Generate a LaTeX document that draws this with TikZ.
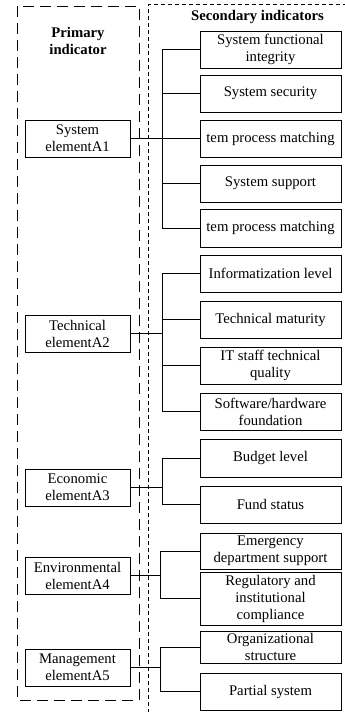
\documentclass[tikz,border=0pt]{standalone}
\usepackage{fontspec}
\setmainfont{Liberation Serif}
\begin{document}
\begin{tikzpicture}[x=1pt,y=-1pt,
  every node/.style={font=\fontsize{14.7}{17}\selectfont},
  primbox/.style={draw,line width=0.8pt,minimum width=105pt,minimum height=37pt,align=center,inner sep=1pt},
  secbox/.style={draw,line width=0.8pt,minimum width=141pt,minimum height=37pt,align=center,inner sep=1pt},
  link/.style={line width=0.8pt},
  outerA/.style={line width=0.8pt,dash pattern=on 11pt off 6pt},
  outerB/.style={line width=0.8pt,dash pattern=on 4pt off 3pt},
  heading/.style={font=\fontsize{14.7}{17.5}\selectfont\bfseries,align=center}]
\useasboundingbox (0,0) rectangle (345,712);

% column frames
\draw[outerA] (17,6) rectangle (139,700);
\draw[outerB] (148,720) -- (148,4.5) -- (360,4.5);

\node[heading] (h1) at (78,41) {Primary\\indicator};
\node[heading] (h2) at (257.5,17) {Secondary indicators};

% primary indicators
\node[primbox] (A1) at (77.5,138.5) {System\\elementA1};
\node[primbox] (A2) at (77.5,333.5) {Technical\\elementA2};
\node[primbox] (A3) at (77.5,487.5) {Economic\\elementA3};
\node[primbox] (A4) at (77.5,575.5) {Environmental\\elementA4};
\node[primbox] (A5) at (77.5,667.5) {Management\\elementA5};

% secondary indicators
\node[secbox] (s1) at (270.5,49.5) {System functional\\integrity};
\node[secbox] (s2) at (270.5,93.5) {System security};
\node[secbox] (s3) at (270.5,138.5) {tem process matching};
\node[secbox] (s4) at (270.5,183.5) {System support};
\node[secbox,minimum height=38pt] (s5) at (270.5,228) {tem process matching};
\node[secbox] (s6) at (270.5,273.5) {Informatization level};
\node[secbox] (s7) at (270.5,319.5) {Technical maturity};
\node[secbox] (s8) at (270.5,365.5) {IT staff technical\\quality};
\node[secbox] (s9) at (270.5,411.5) {Software/hardware\\foundation};
\node[secbox,minimum height=38pt] (s10) at (270.5,458) {Budget level};
\node[secbox] (s11) at (270.5,504.5) {Fund status};
\node[secbox,minimum height=36pt] (s12) at (270.5,551) {Emergency\\department support};
\node[secbox,minimum height=53pt] (s13) at (270.5,598.5) {Regulatory and\\institutional\\compliance};
\node[secbox,minimum height=32pt] (s14) at (270.5,647) {Organizational\\structure};
\node[secbox] (s15) at (270.5,691.5) {Partial system};

% trunk positions
\coordinate (t1) at (162,138.5);
\coordinate (t2) at (162,333.5);
\coordinate (t3) at (162,487.5);
\coordinate (t4) at (160,575.5);
\coordinate (t5) at (160,667.5);

% group A1
\draw[link] (A1.east) -- (t1);
\draw[link] (s1.west) -- (s1.west -| t1) -- (s5.west -| t1) -- (s5.west);
\foreach \s in {s2,s3,s4} \draw[link] (\s.west) -- (\s.west -| t1);
% group A2
\draw[link] (A2.east) -- (t2);
\draw[link] (s6.west) -- (s6.west -| t2) -- (s9.west -| t2) -- (s9.west);
\foreach \s in {s7,s8} \draw[link] (\s.west) -- (\s.west -| t2);
% group A3
\draw[link] (A3.east) -- (t3);
\draw[link] (s10.west) -- (s10.west -| t3) -- (s11.west -| t3) -- (s11.west);
% group A4
\draw[link] (A4.east) -- (t4);
\draw[link] (s12.west) -- (s12.west -| t4) -- (s13.west -| t4) -- (s13.west);
% group A5
\draw[link] (A5.east) -- (t5);
\draw[link] (s14.west) -- (s14.west -| t5) -- (s15.west -| t5) -- (s15.west);
\end{tikzpicture}
\end{document}
